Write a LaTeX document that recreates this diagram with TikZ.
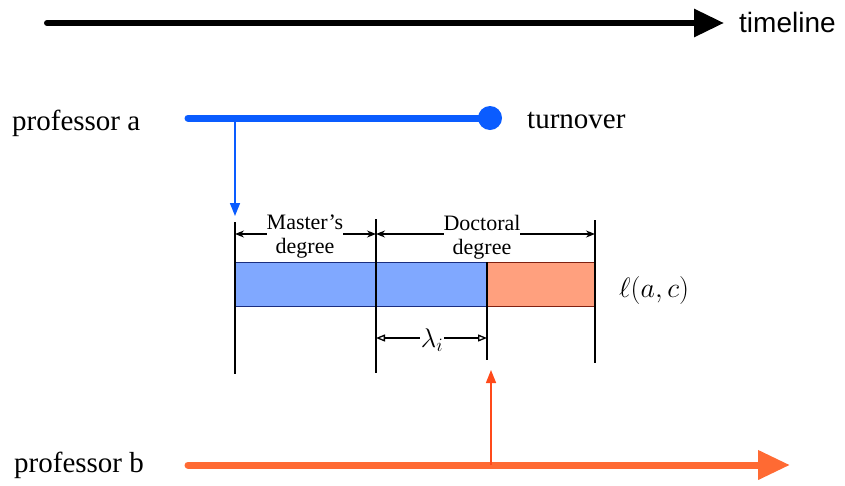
\RequirePackage{fix-cm}
\documentclass[tikz,border=0pt]{standalone}
\usepackage{fontspec}
\setmainfont{Liberation Serif}
\newfontfamily\sansf{Liberation Sans}
\newfontfamily\serf{Liberation Serif}
\usetikzlibrary{arrows.meta}
\definecolor{pblue}{HTML}{0A5CFF}
\definecolor{porange}{HTML}{FF6A33}
\definecolor{pred}{HTML}{FF4A1A}
\definecolor{barblue}{HTML}{80A8FF}
\definecolor{barblueline}{HTML}{1A2E80}
\definecolor{barsalmon}{HTML}{FFA07E}
\definecolor{barsalmonline}{HTML}{802010}
\begin{document}
\begin{tikzpicture}[x=1pt,y=-1pt,
  bigtxt/.style={font=\serf\fontsize{29}{32}\selectfont, inner sep=0pt},
  smalltxt/.style={font=\serf\fontsize{22}{24}\selectfont, align=center, fill=white, inner sep=0pt},
  tick/.style={black, line width=1.3pt},
  dimarrow/.style={black, line width=1.3pt, {Stealth[length=9pt,width=7pt]}-{Stealth[length=9pt,width=7pt]}},
  openarrow/.style={black, line width=1.3pt, {Triangle[open,length=9pt,width=7pt,fill=white]}-{Triangle[open,length=9pt,width=7pt,fill=white]}}
]
\useasboundingbox (0,0) rectangle (845,485);

% timeline
\coordinate (t0) at (47,23);
\coordinate (t1) at (724,23);
\draw[line width=6pt, line cap=round, -{Triangle[length=30pt,width=27pt]}] (t0) -- (t1);
\node[anchor=base west, font=\sansf\fontsize{28}{30}\selectfont, inner sep=0pt] (tl) at (739,32) {timeline};

% professor a
\node[bigtxt, anchor=base west] (pa) at (12,130) {professor a};
\coordinate (a0) at (188,118);
\coordinate (a1) at (490,118);
\draw[pblue, line width=7pt, line cap=round] (a0) -- (a1);
\node[circle, fill=pblue, minimum size=24pt, inner sep=0pt] (dot) at (a1) {};
\node[bigtxt, anchor=base west] (to) at (527,128) {turnover};
\coordinate (a2) at (235,118);
\coordinate (a3) at (235,216);
\draw[pblue, line width=1.5pt, -{Triangle[length=13pt,width=10pt]}] (a2) -- (a3);

% bar
\filldraw[fill=barblue, draw=barblueline, line width=1pt] (235,262) rectangle (487,306);
\filldraw[fill=barsalmon, draw=barsalmonline, line width=1pt] (487,262) rectangle (595,306);

% ticks
\coordinate (v1a) at (235,222); \coordinate (v1b) at (235,374);
\coordinate (v2a) at (376,219); \coordinate (v2b) at (376,373);
\coordinate (v3a) at (487,262); \coordinate (v3b) at (487,360);
\coordinate (v4a) at (595,220); \coordinate (v4b) at (595,363);
\draw[tick] (v1a) -- (v1b);
\draw[tick] (v2a) -- (v2b);
\draw[tick] (v3a) -- (v3b);
\draw[tick] (v4a) -- (v4b);

% dimension arrows
\coordinate (d1a) at (235,234); \coordinate (d1b) at (376,234); \coordinate (d1c) at (595,234);
\draw[dimarrow] (d1a) -- (d1b);
\draw[dimarrow] (d1b) -- (d1c);
\node[smalltxt] (ms) at (305,237) {Master’s\\degree};
\node[smalltxt] (dd) at (482,237) {Doctoral\\degree};

\coordinate (la) at (376,338); \coordinate (lb) at (487,338);
\draw[openarrow] (la) -- (lb);
\node[fill=white, inner sep=1pt, font=\fontsize{27}{29}\selectfont] (lam) at (432,340) {$\lambda_i$};

\node[font=\fontsize{28}{30}\selectfont, anchor=west, inner sep=0pt] (ell) at (619,290) {$\ell(a,c)$};

% professor b
\node[bigtxt, anchor=base west] (pb) at (14,472) {professor b};
\coordinate (b0) at (188,465);
\coordinate (b1) at (790,465);
\draw[porange, line width=7pt, line cap=round, -{Triangle[length=32pt,width=28pt]}] (b0) -- (b1);
\coordinate (b2) at (491,465);
\coordinate (b3) at (491,370);
\draw[pred, line width=1.5pt, -{Triangle[length=13pt,width=10pt]}] (b2) -- (b3);
\end{tikzpicture}
\end{document}
